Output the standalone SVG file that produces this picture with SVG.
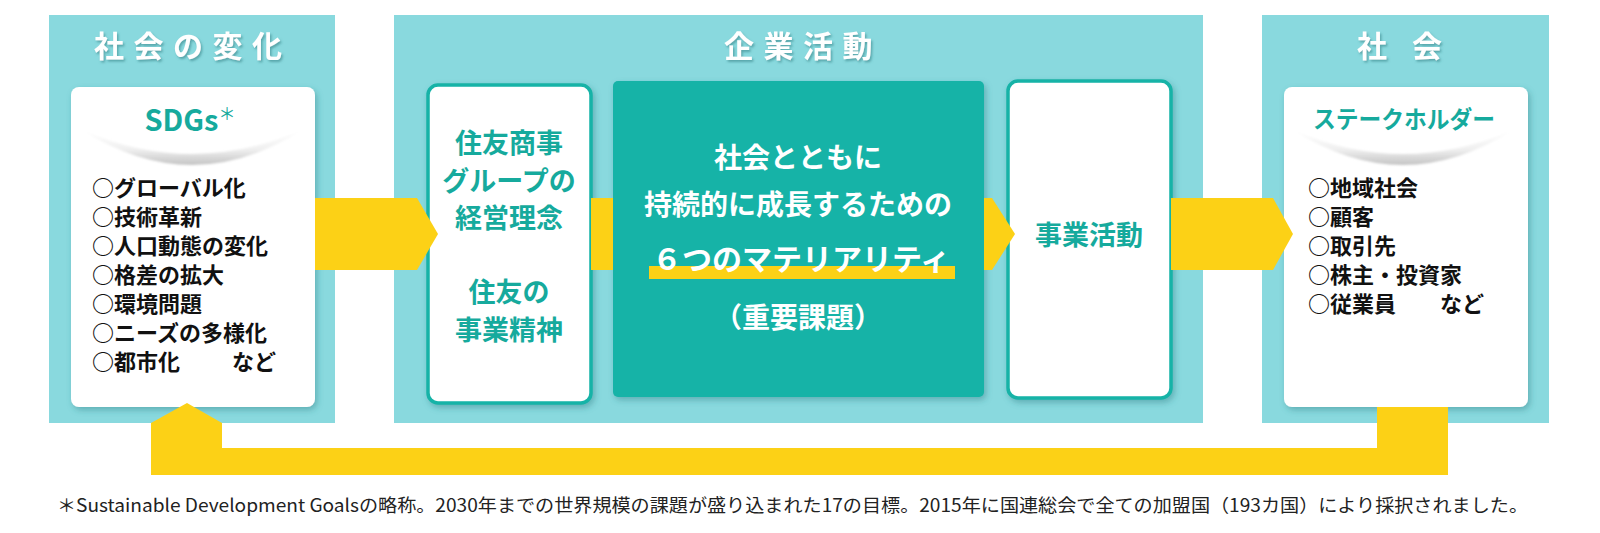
<svg xmlns="http://www.w3.org/2000/svg" width="1600" height="533" viewBox="0 0 1600 533">
<defs>
<filter id="ts" x="-10%" y="-30%" width="130%" height="170%"><feDropShadow dx="1.5" dy="2" stdDeviation="1.2" flood-color="#2f7c80" flood-opacity="0.55"/></filter>
<filter id="cs" x="-10%" y="-10%" width="125%" height="125%"><feDropShadow dx="2" dy="3" stdDeviation="3" flood-color="#2a7d82" flood-opacity="0.45"/></filter>
<filter id="sb" x="-5%" y="-30%" width="110%" height="160%"><feGaussianBlur stdDeviation="0.8"/></filter>
<linearGradient id="sw" x1="0" y1="0" x2="0" y2="1"><stop offset="0" stop-color="#ffffff"/><stop offset="0.55" stop-color="#f0f0f0"/><stop offset="1" stop-color="#c4c4c4"/></linearGradient>
</defs>
<style>
.panel{fill:#89D9DE}
.title{font-family:"Noto Sans CJK JP","Noto Sans",sans-serif;font-weight:700;font-size:30px;fill:#ffffff;letter-spacing:9.5px}
.card{fill:#ffffff}
.ocard{fill:#ffffff;stroke:#15B3A7;stroke-width:3.5}
.teal{fill:#15B3A7}
.tt{font-family:"Noto Sans CJK JP","Noto Sans",sans-serif;font-weight:700;fill:#16AA9D;text-anchor:middle}
.wt{font-family:"Noto Sans CJK JP","Noto Sans",sans-serif;font-weight:700;fill:#ffffff;text-anchor:middle}
.li{font-family:"Noto Sans CJK JP","Noto Sans",sans-serif;font-weight:700;font-size:22px;fill:#111111}
.arrow{fill:#FCD116}
.swoosh{fill:url(#sw)}
.foot{font-family:"Noto Sans CJK JP","Noto Sans",sans-serif;font-size:18px;fill:#222222}
</style>

<g id="panel-social-change">
<rect class="panel" x="49" y="15" width="286" height="408"/>
<text class="title" x="94" y="57" filter="url(#ts)">社会の変化</text>
</g>
<g id="panel-business">
<rect class="panel" x="394" y="15" width="809" height="408"/>
<text class="title" x="724" y="57" filter="url(#ts)">企業活動</text>
</g>
<g id="panel-society">
<rect class="panel" x="1262" y="15" width="287" height="408"/>
<text class="title" x="1357 1391 1412" y="57" filter="url(#ts)">社 会</text>
</g>

<g id="node-sdgs">
<rect class="card" x="71" y="87" width="244" height="320" rx="8" filter="url(#cs)"/>
<text class="tt" x="190" y="131" font-size="29" font-family="'Noto Sans','Noto Sans CJK JP',sans-serif">SDGs<tspan font-size="17" font-weight="400" dy="-11">＊</tspan></text>
<path class="swoosh" d="M82,130 Q192,200 302,130 Q192,178 82,130 Z" filter="url(#sb)"/>
<text class="li" x="92" y="196">○グローバル化</text>
<text class="li" x="92" y="225">○技術革新</text>
<text class="li" x="92" y="254">○人口動態の変化</text>
<text class="li" x="92" y="283">○格差の拡大</text>
<text class="li" x="92" y="312">○環境問題</text>
<text class="li" x="92" y="341">○ニーズの多様化</text>
<text class="li" x="92" y="370">○都市化</text>
<text class="li" x="232" y="370">など</text>
</g>

<g id="node-philosophy">
<rect class="ocard" x="428" y="85" width="163" height="318" rx="10" filter="url(#cs)"/>
<text class="tt" x="509" y="153" font-size="27">住友商事</text>
<text class="tt" x="509" y="191" font-size="27">グループの</text>
<text class="tt" x="509" y="228" font-size="27">経営理念</text>
<text class="tt" x="509" y="302" font-size="27">住友の</text>
<text class="tt" x="509" y="340" font-size="27">事業精神</text>
</g>

<g id="node-materiality">
<rect class="teal" x="613" y="81" width="371" height="316" rx="5" filter="url(#cs)"/>
<rect class="arrow" x="649" y="266" width="306" height="13"/>
<text class="wt" x="798" y="168" font-size="28">社会とともに</text>
<text class="wt" x="798" y="215" font-size="28">持続的に成長するための</text>
<text class="wt" x="801" y="270" font-size="30">６つのマテリアリティ</text>
<text class="wt" x="798" y="328" font-size="28">（重要課題）</text>
</g>

<g id="node-business-activities">
<rect class="ocard" x="1008" y="81" width="163" height="317" rx="10" filter="url(#cs)"/>
<text class="tt" x="1089" y="245" font-size="27">事業活動</text>
</g>

<g id="node-stakeholders">
<rect class="card" x="1284" y="87" width="244" height="320" rx="8" filter="url(#cs)"/>
<text class="tt" x="1404" y="128" font-size="24" textLength="182" lengthAdjust="spacingAndGlyphs">ステークホルダー</text>
<path class="swoosh" d="M1293,130 Q1403,200 1513,130 Q1403,178 1293,130 Z" filter="url(#sb)"/>
<text class="li" x="1308" y="196">○地域社会</text>
<text class="li" x="1308" y="225">○顧客</text>
<text class="li" x="1308" y="254">○取引先</text>
<text class="li" x="1308" y="283">○株主・投資家</text>
<text class="li" x="1308" y="312">○従業員</text>
<text class="li" x="1440" y="312">など</text>
</g>

<g id="connectors">
<polygon class="arrow" points="315,198 417,198 438,234 417,270 315,270"/>
<rect class="arrow" x="591" y="198" width="22" height="72"/>
<polygon class="arrow" points="984,198 992,198 1015,234 992,270 984,270"/>
<polygon class="arrow" points="1171,198 1273,198 1293,234 1273,270 1171,270"/>
<polygon class="arrow" points="187,403 222,423 222,448 1377,448 1377,407 1448,407 1448,475 151,475 151,423"/>
</g>

<g id="footnote">
<text class="foot" x="57" y="512" textLength="1471" lengthAdjust="spacingAndGlyphs">＊Sustainable Development Goalsの略称。2030年までの世界規模の課題が盛り込まれた17の目標。2015年に国連総会で全ての加盟国（193カ国）により採択されました。</text>
</g>
</svg>
